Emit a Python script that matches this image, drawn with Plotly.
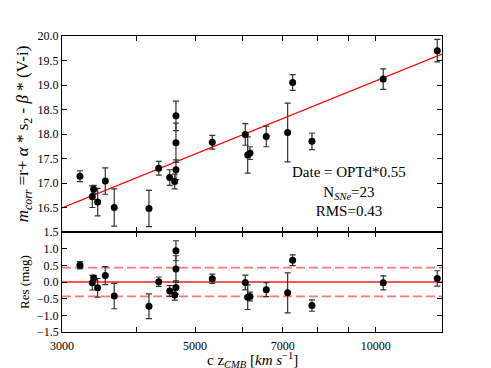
import numpy as np
import plotly.graph_objects as go
from plotly.subplots import make_subplots

# ---- data ----
cz = [3214, 3370, 3388, 3440, 3542, 3666, 4189, 4349, 4536, 4624, 4646, 4646, 4646,
      5341, 6063, 6119, 6173, 6571, 7133, 7271, 7831, 10295, 12668]
mcorr = [17.14, 16.72, 16.87, 16.61, 17.04, 16.50, 16.48, 17.30, 17.11, 17.03, 17.27, 17.82, 18.37,
         17.83, 17.99, 17.57, 17.61, 17.95, 18.03, 19.05, 17.85, 19.12, 19.70]
merr = [0.11, 0.22, 0.08, 0.28, 0.27, 0.38, 0.37, 0.14, 0.16, 0.15, 0.20, 0.40, 0.30,
        0.14, 0.22, 0.37, 0.13, 0.21, 0.60, 0.16, 0.17, 0.21, 0.23]

# hubble line  m = a + b*log10(cz)
a_fit = -0.7565
b_fit = 4.96
rms = 0.43
n_sne = 23
date_txt = "OPTd*0.55"

xlim = [3000, 12900]
xticks = [3000, 4000, 5000, 6000, 7000, 8000, 9000, 10000]
xticktext = ["3000", "", "5000", "", "7000", "", "", "10000"]
yticks_top = [16.5, 17.0, 17.5, 18.0, 18.5, 19.0, 19.5, 20.0]
yticks_res = [-1.5, -1.0, -0.5, 0.0, 0.5, 1.0, 1.5]
# plotly drops the bottom corner label, it is drawn separately below
yticks_res_txt = ["", "−1.0", "−0.5", "0.0", "0.5", "1.0", "1.5"]

cz = np.array(cz)
mcorr = np.array(mcorr)
model = a_fit + b_fit * np.log10(cz)
res = mcorr - model

xline = np.logspace(np.log10(xlim[0]), np.log10(xlim[1]), 50)
yline = a_fit + b_fit * np.log10(xline)

FONT = "Liberation Serif"

fig = make_subplots(rows=2, cols=1, shared_xaxes=True, vertical_spacing=0,
                    row_heights=[196, 100])

fig.add_trace(go.Scatter(x=xline, y=yline, mode="lines",
                         line=dict(color="red", width=1.2)), row=1, col=1)
fig.add_trace(go.Scatter(x=cz, y=mcorr, mode="markers",
                         marker=dict(color="black", size=7),
                         error_y=dict(type="data", array=merr, color="#333333",
                                      thickness=1.2, width=3)), row=1, col=1)

# residuals
fig.add_trace(go.Scatter(x=xlim, y=[0, 0], mode="lines",
                         line=dict(color="#ff5555", width=1.8)), row=2, col=1)
for s in [rms, -rms]:
    fig.add_trace(go.Scatter(x=xlim, y=[s, s], mode="lines",
                             line=dict(color="#ff7777", width=1.8, dash="9px,4px")),
                  row=2, col=1)
fig.add_trace(go.Scatter(x=cz, y=res, mode="markers",
                         marker=dict(color="black", size=7),
                         error_y=dict(type="data", array=merr, color="#333333",
                                      thickness=1.2, width=3)), row=2, col=1)

axstyle = dict(showline=True, linecolor="black", linewidth=1, mirror="allticks",
               ticks="inside", ticklen=5, tickcolor="black", showgrid=False,
               zeroline=False, automargin=False,
               tickfont=dict(family=FONT, size=12, color="black"))

fig.update_xaxes(type="log", range=[np.log10(xlim[0]), np.log10(xlim[1])],
                 tickvals=xticks, ticktext=xticktext, ticklabelstandoff=3, **axstyle)

fig.update_yaxes(range=[16, 20], tickvals=yticks_top, tickformat=".1f", **axstyle,
                 row=1, col=1)
fig.update_yaxes(title=dict(text="<i>m</i><sub><i>corr</i></sub> =r+ <i>α</i> * s<sub>2</sub> - <i>β</i> * (V-i)",
                            font=dict(family=FONT, size=17, color="black"), standoff=4),
                 row=1, col=1)
fig.update_yaxes(range=[-1.5, 1.5], tickvals=yticks_res, ticktext=yticks_res_txt, **axstyle,
                 row=2, col=1)
fig.update_yaxes(title=dict(text="Res (mag)", font=dict(family=FONT, size=13, color="black"),
                            standoff=4), row=2, col=1)

fig.add_annotation(xref="paper", yref="y2", x=0, y=yticks_res[0],
                   xanchor="right", yanchor="middle", xshift=-1, showarrow=False,
                   text=f"−{abs(yticks_res[0]):.1f}",
                   font=dict(family=FONT, size=12, color="black"))

# x axis title
fig.add_annotation(xref="paper", yref="paper", x=0.5, y=-0.093,
                   xanchor="center", yanchor="middle", showarrow=False,
                   text="c z<sub><i>CMB</i></sub> [<i>km s</i><sup>−1</sup>]",
                   font=dict(family=FONT, size=15, color="black"))

fig.add_annotation(xref="x domain", yref="y domain", x=0.755, y=0.205,
                   xanchor="center", yanchor="middle",
                   text=f"Date = {date_txt}<br>N<sub><i>SNe</i></sub>={n_sne}<br>RMS={rms:.2f}",
                   showarrow=False, align="center",
                   font=dict(family=FONT, size=15, color="black"))

# page body adds an 8px offset, so the figure is 8px smaller than the window
fig.update_layout(width=483, height=360, showlegend=False,
                  margin=dict(l=54, r=49, t=28, b=36),
                  plot_bgcolor="white", paper_bgcolor="white")

fig.write_html("out.html")
